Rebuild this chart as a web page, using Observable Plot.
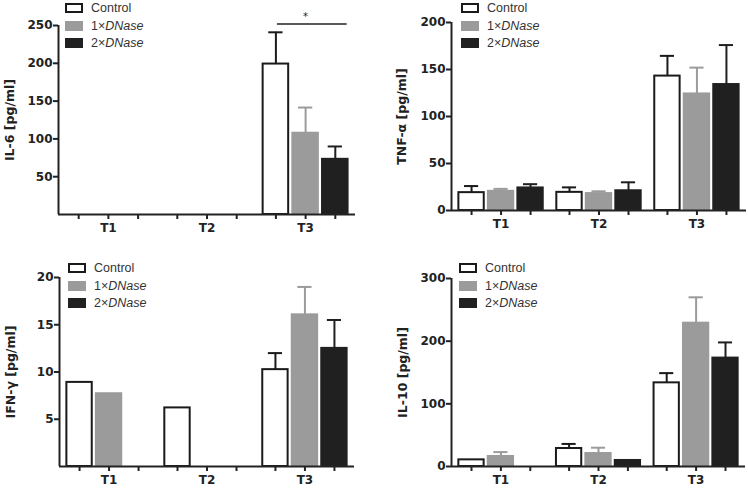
<!DOCTYPE html>
<html><head><meta charset="utf-8">
<script src="https://cdn.jsdelivr.net/npm/d3@7"></script>
<script src="https://cdn.jsdelivr.net/npm/@observablehq/plot@0.6"></script>
<style>
body{margin:0;background:#fff;}
#wrap{position:relative;width:748px;height:488px;overflow:hidden;background:#fff;}
.panel{position:absolute;width:374px;height:244px;}
.panel svg{position:absolute;left:0;top:0;}
.legend{position:absolute;font-family:"Liberation Sans",Arial,sans-serif;font-size:12.5px;color:#333;}
.legend .row{position:relative;height:17.5px;}
.legend .sw{position:absolute;left:0;top:1px;width:18px;height:10px;box-sizing:border-box;}
.legend .tx{position:absolute;left:26px;top:-1px;white-space:nowrap;line-height:14px;}
g[aria-label="y-axis label"] text{font-size:12.5px;}
</style>
</head><body>
<div id="wrap"></div>
<script>
// ---- data ----
const groups = ["T1", "T2", "T3"];
const seriesNames = ["Control", "1×DNase", "2×DNase"];

// IL-6 [pg/ml]
const il6Control = [null, null, 199];
const il6ControlErr = [null, null, 42];
const il6Dnase1 = [null, null, 107.5];
const il6Dnase1Err = [null, null, 34];
const il6Dnase2 = [null, null, 73];
const il6Dnase2Err = [null, null, 17];
const il6Ticks = [50, 100, 150, 200, 250];

// TNF-α [pg/ml]
const tnfControl = [19, 19.3, 143];
const tnfControlErr = [7, 5.3, 21.5];
const tnfDnase1 = [20.4, 18, 124];
const tnfDnase1Err = [2.6, 2.4, 28];
const tnfDnase2 = [24, 21, 134];
const tnfDnase2Err = [4, 9, 42];
const tnfTicks = [0, 50, 100, 150, 200];

// IFN-γ [pg/ml]
const ifnControl = [8.9, 6.2, 10.25];
const ifnControlErr = [null, null, 1.75];
const ifnDnase1 = [7.7, null, 16.05];
const ifnDnase1Err = [null, null, 2.95];
const ifnDnase2 = [null, null, 12.5];
const ifnDnase2Err = [null, null, 3];
const ifnTicks = [5, 10, 15, 20];

// IL-10 [pg/ml]
const il10Control = [10.6, 28.7, 133.5];
const il10ControlErr = [null, 7.3, 15.5];
const il10Dnase1 = [16, 20.7, 228.7];
const il10Dnase1Err = [7, 9.3, 41.3];
const il10Dnase2 = [null, 9.6, 173];
const il10Dnase2Err = [null, null, 25];
const il10Ticks = [0, 100, 200, 300];

// ---- styling ----
const barFill = ["#ffffff", "#9b9b9b", "#202020"];
const barStroke = ["#1a1a1a", "#9b9b9b", "#202020"];
const errStroke = ["#1a1a1a", "#9b9b9b", "#202020"];
const GROUP_STEP = 3.32;
const PAD = 0.68;
const TICK_PX = 5;

const panels = [
  {left: 0, top: 0, label: "IL-6 [pg/ml]", ymax: 250, ticks: il6Ticks,
   means: [il6Control, il6Dnase1, il6Dnase2], errs: [il6ControlErr, il6Dnase1Err, il6Dnase2Err],
   m: {l: 58, r: 19, t: 25, b: 30}, labelLeft: 5, legend: {x: 65, y: 2}, sig: true},
  {left: 374, top: 0, label: "TNF-α [pg/ml]", ymax: 200, ticks: tnfTicks,
   means: [tnfControl, tnfDnase1, tnfDnase2], errs: [tnfControlErr, tnfDnase1Err, tnfDnase2Err],
   m: {l: 77, r: 2, t: 22, b: 34}, labelLeft: 23, legend: {x: 87, y: 2}},
  {left: 0, top: 244, label: "IFN-γ [pg/ml]", ymax: 20, ticks: ifnTicks,
   means: [ifnControl, ifnDnase1, ifnDnase2], errs: [ifnControlErr, ifnDnase1Err, ifnDnase2Err],
   m: {l: 59, r: 20, t: 33, b: 22}, labelLeft: 6, legend: {x: 68, y: 18}},
  {left: 374, top: 244, label: "IL-10 [pg/ml]", ymax: 300, ticks: il10Ticks,
   means: [il10Control, il10Dnase1, il10Dnase2], errs: [il10ControlErr, il10Dnase1Err, il10Dnase2Err],
   m: {l: 77, r: 3, t: 34, b: 22}, labelLeft: 24, legend: {x: 85, y: 18}}
];

const wrap = document.getElementById("wrap");
const pos = (gi, si) => gi * GROUP_STEP + si;
const xDomain = [-PAD, pos(groups.length - 1, seriesNames.length - 1) + PAD];
const barTicks = groups.flatMap((g, gi) => seriesNames.map((s, si) => pos(gi, si)));
const groupCenters = groups.map((g, gi) => pos(gi, 1));

for (const cfg of panels) {
  const rows = [];
  seriesNames.forEach((s, si) => groups.forEach((g, gi) => {
    const m = cfg.means[si][gi];
    if (m == null) return;
    rows.push({g, s, si, gi, pos: pos(gi, si), mean: m, err: cfg.errs[si][gi]});
  }));
  const plotH = 244 - cfg.m.t - cfg.m.b;
  const tickLen = TICK_PX * cfg.ymax / plotH;
  const marks = [];
  seriesNames.forEach((s, si) => {
    const r = rows.filter(d => d.si === si);
    marks.push(Plot.rect(r, {x1: d => d.pos - 0.43, x2: d => d.pos + 0.43, y1: 0, y2: "mean",
      fill: barFill[si], stroke: barStroke[si], strokeWidth: 2}));
    const e = r.filter(d => d.err != null);
    marks.push(Plot.ruleX(e, {x: "pos", y1: "mean", y2: d => d.mean + d.err, stroke: errStroke[si], strokeWidth: 2}));
    marks.push(Plot.ruleY(e, {y: d => d.mean + d.err, x1: d => d.pos - 0.24, x2: d => d.pos + 0.24, stroke: errStroke[si], strokeWidth: 2}));
  });
  marks.push(Plot.ruleY([0], {stroke: "#222", strokeWidth: 2}));
  marks.push(Plot.ruleX([xDomain[0]], {stroke: "#222", strokeWidth: 2}));
  marks.push(Plot.ruleX(barTicks, {x: d => d, y1: 0, y2: -tickLen, stroke: "#222", strokeWidth: 2}));
  marks.push(Plot.axisY({ticks: cfg.ticks, tickSize: 5, tickPadding: 1, strokeWidth: 2,
    label: cfg.label, labelAnchor: "center", labelArrow: "none", labelOffset: cfg.m.l - cfg.labelLeft}));
  marks.push(Plot.axisX({ticks: groupCenters, tickSize: 0, tickPadding: 9, label: null,
    tickFormat: v => groups[groupCenters.indexOf(v)]}));
  if (cfg.sig) {
    marks.push(Plot.ruleY([252], {x1: pos(2, 0) + 0.05, x2: pos(2, 2) + 0.4, stroke: "#222", strokeWidth: 1.5}));
    marks.push(Plot.text(["*"], {x: pos(2, 1), y: 262, text: d => d, fontWeight: "normal", fontSize: 10}));
  }
  const svg = Plot.plot({
    width: 374, height: 244,
    marginLeft: cfg.m.l, marginRight: cfg.m.r, marginTop: cfg.m.t, marginBottom: cfg.m.b,
    style: {fontFamily: "'DejaVu Sans', sans-serif", fontSize: "12px", fontWeight: "bold", color: "#222", background: "transparent", overflow: "visible"},
    x: {type: "linear", domain: xDomain, axis: null},
    y: {domain: [0, cfg.ymax], axis: null},
    marks
  });
  const div = document.createElement("div");
  div.className = "panel";
  div.style.left = cfg.left + "px";
  div.style.top = cfg.top + "px";
  div.appendChild(svg);
  const lg = document.createElement("div");
  lg.className = "legend";
  lg.style.left = cfg.legend.x + "px";
  lg.style.top = cfg.legend.y + "px";
  seriesNames.forEach((s, si) => {
    const row = document.createElement("div");
    row.className = "row";
    const sw = document.createElement("span");
    sw.className = "sw";
    sw.style.background = barFill[si];
    sw.style.border = "2px solid " + barStroke[si];
    const tx = document.createElement("span");
    tx.className = "tx";
    const parts = s.split("×");
    if (parts.length === 2) {
      tx.appendChild(document.createTextNode(parts[0] + "×"));
      const it = document.createElement("i");
      it.textContent = parts[1];
      tx.appendChild(it);
    } else tx.textContent = s;
    row.appendChild(sw); row.appendChild(tx);
    lg.appendChild(row);
  });
  div.appendChild(lg);
  wrap.appendChild(div);
}
</script>
</body></html>
